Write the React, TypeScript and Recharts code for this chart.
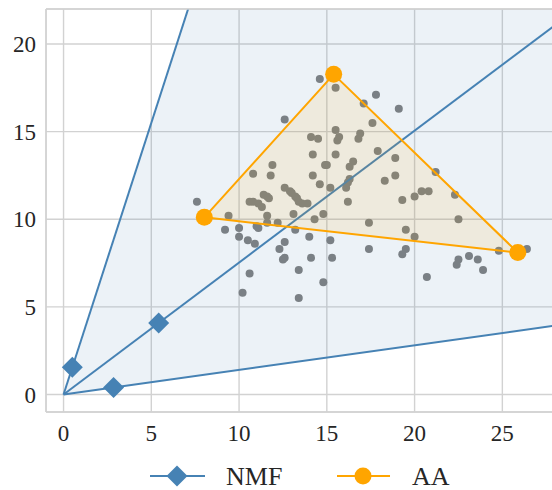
import React from "react";
import {
  ComposedChart, Area, Line, Scatter,
  XAxis, YAxis, CartesianGrid, ReferenceLine, Legend,
} from "recharts";

const X_TICKS = [0, 5, 10, 15, 20, 25];
const Y_TICKS = [0, 5, 10, 15, 20];

// NMF basis points (rays go from origin through these)
const NMF_X = [0.5, 5.42, 2.85];
const NMF_Y = [1.55, 4.08, 0.4];

// AA archetypes (triangle vertices)
const AA_X = [8.02, 15.39, 25.88];
const AA_Y = [10.11, 18.27, 8.1];

// observed samples
const DATA_X = [
  7.6, 14.6, 15.5, 17.8, 19.1, 17.1, 17.6, 15.5, 14.1, 14.5,
  15.6, 15.7, 16.8, 16.9, 14.2, 17.9, 15.5, 14.9, 15.0, 16.3,
  16.5, 18.9, 14.2, 18.9, 12.6, 11.9, 10.8, 11.8, 9.4, 9.2,
  10.0, 10.0, 10.5, 10.9, 10.6, 10.2, 10.6, 10.8, 11.1, 11.3,
  11.4, 11.6, 11.7, 11.6, 11.0, 11.1, 11.6, 12.6, 12.9, 13.0,
  13.2, 13.3, 13.4, 13.6, 13.9, 13.1, 13.2, 12.6, 12.3, 12.5,
  12.6, 13.4, 13.4, 14.0, 12.2, 14.6, 15.2, 16.2, 16.3, 16.1,
  18.3, 19.3, 20.0, 20.4, 20.8, 16.2, 14.3, 14.8, 17.4, 19.5,
  20.0, 15.2, 17.4, 19.5, 19.3, 14.1, 15.3, 14.8, 20.7, 21.2,
  22.3, 22.5, 24.8, 26.4, 22.5, 22.4, 23.1, 23.6, 23.9,
];
const DATA_Y = [
  11.0, 18.0, 17.5, 17.1, 16.3, 16.6, 15.5, 15.1, 14.7, 14.6,
  14.5, 14.7, 14.6, 14.9, 13.7, 13.9, 13.7, 13.1, 13.1, 13.0,
  13.3, 13.5, 12.5, 12.5, 15.7, 13.1, 12.6, 12.5, 10.2, 9.4,
  9.5, 9.0, 8.8, 8.6, 6.9, 5.8, 11.0, 11.0, 10.9, 10.7,
  11.4, 11.3, 11.2, 10.2, 9.6, 9.5, 9.8, 11.8, 11.6, 11.5,
  11.3, 11.2, 11.0, 10.9, 10.9, 10.3, 9.4, 8.7, 8.3, 7.7,
  7.8, 7.1, 5.5, 9.0, 9.8, 12.0, 11.8, 12.1, 12.3, 11.8,
  12.2, 11.1, 11.3, 11.6, 11.6, 11.0, 10.0, 10.3, 9.8, 9.4,
  9.0, 8.8, 8.3, 8.3, 8.0, 7.8, 7.8, 6.4, 6.7, 12.7,
  11.4, 10.0, 8.2, 8.3, 7.7, 7.4, 7.9, 7.7, 7.1,
];

const BLUE = "#4682b4";
const ORANGE = "#ffa500";
const GRID = "#d2d2d2";
const TEXT = "#262626";
const FONT = "'Liberation Serif', 'DejaVu Serif', serif";

const samples = DATA_X.map((x, i) => ({ x, y: DATA_Y[i] }));
const nmf = NMF_X.map((x, i) => ({ x, y: NMF_Y[i] }));
const aa = AA_X.map((x, i) => ({ x, y: AA_Y[i] }));

// rays from origin, extended well past the plot (clipped by the axes)
const rays = nmf.map((p) => [{ x: 0, y: 0 }, { x: p.x * 20, y: p.y * 20 }]);

// cone between steepest and flattest ray, as a range area
const FAR = 30;
const coneData = [
  { x: 0, r: [0, 0] },
  { x: FAR, r: [(NMF_Y[2] / NMF_X[2]) * FAR, (NMF_Y[0] / NMF_X[0]) * FAR] },
];

// triangle fill as a range area: lower edge runs from aa[0] to aa[2]
const lowerAt = (x: number) =>
  aa[0].y + ((aa[2].y - aa[0].y) * (x - aa[0].x)) / (aa[2].x - aa[0].x);
const triData = [
  { x: aa[0].x, r: [aa[0].y, aa[0].y] },
  { x: aa[1].x, r: [lowerAt(aa[1].x), aa[1].y] },
  { x: aa[2].x, r: [aa[2].y, aa[2].y] },
];
const triLoop = [...aa, aa[0]];

const diamondPts = (cx: number, cy: number, h: number) =>
  `${cx},${cy - h} ${cx + h},${cy} ${cx},${cy + h} ${cx - h},${cy}`;

const Dot = (p: any) => <circle cx={p.cx} cy={p.cy} r={4} fill="#808080" />;
const Diamond = (p: any) => <polygon points={diamondPts(p.cx, p.cy, 10.5)} fill={BLUE} />;
const AADot = (p: any) => <circle cx={p.cx} cy={p.cy} r={8.5} fill={ORANGE} />;

function LegendBox() {
  return (
    <svg width={552} height={38} style={{ display: "block", overflow: "visible" }}>
      <line x1={150} x2={205} y1={24} y2={24} stroke={BLUE} strokeWidth={2} />
      <polygon points={diamondPts(177, 24, 10.5)} fill={BLUE} />
      <text x={226} y={33} fontSize={26} style={{ fontFamily: FONT }} fill={TEXT}>NMF</text>
      <line x1={337} x2={390} y1={24} y2={24} stroke={ORANGE} strokeWidth={2} />
      <circle cx={363} cy={24} r={8.5} fill={ORANGE} />
      <text x={412} y={33} fontSize={26} style={{ fontFamily: FONT }} fill={TEXT}>AA</text>
    </svg>
  );
}

const tickStyle = { fontSize: 23, fill: TEXT, style: { fontFamily: FONT } };

export default function App() {
  return (
    <div style={{ position: "absolute", left: 0, top: 0, width: 552, height: 490, overflow: "hidden", background: "#fff", fontFamily: FONT }}>
      <ComposedChart width={555} height={490} margin={{ top: 9, right: 0, left: 0, bottom: 0 }}
        style={{ fontFamily: FONT }}>
        <CartesianGrid stroke={GRID} strokeWidth={1.4} />
        <XAxis
          type="number" dataKey="x" domain={[-1, 28]} ticks={X_TICKS}
          allowDataOverflow height={40}
          tick={tickStyle} tickLine={false} tickSize={0} tickMargin={13}
          axisLine={{ stroke: GRID, strokeWidth: 1.4 }}
        />
        <YAxis
          type="number" dataKey="y" domain={[-1, 22]} ticks={Y_TICKS}
          allowDataOverflow width={46}
          tick={tickStyle} tickLine={false} tickSize={0} tickMargin={10}
          axisLine={{ stroke: GRID, strokeWidth: 1.4 }}
        />
        <ReferenceLine y={22} stroke={GRID} strokeWidth={1.4} />

        <Scatter data={samples} dataKey="y" shape={Dot} isAnimationActive={false} zIndex={50} />

        <Area data={coneData} dataKey="r" type="linear" stroke="none"
          fill={BLUE} fillOpacity={0.1} isAnimationActive={false} zIndex={100} />
        {rays.map((d, i) => (
          <Line key={i} data={d} dataKey="y" type="linear" stroke={BLUE} strokeWidth={2}
            dot={false} activeDot={false} isAnimationActive={false} zIndex={150} />
        ))}

        <Area data={triData} dataKey="r" type="linear" stroke="none"
          fill={ORANGE} fillOpacity={0.1} isAnimationActive={false} zIndex={160} />
        <Line data={triLoop} dataKey="y" type="linear" stroke={ORANGE} strokeWidth={2}
          dot={false} activeDot={false} isAnimationActive={false} zIndex={170} />

        <Scatter data={nmf} dataKey="y" shape={Diamond} isAnimationActive={false} zIndex={180} />
        <Scatter data={aa} dataKey="y" shape={AADot} isAnimationActive={false} zIndex={190} />

        <Legend verticalAlign="bottom" align="left" content={() => <LegendBox />}
          wrapperStyle={{ left: 0, width: 552 }} />
      </ComposedChart>
    </div>
  );
}
